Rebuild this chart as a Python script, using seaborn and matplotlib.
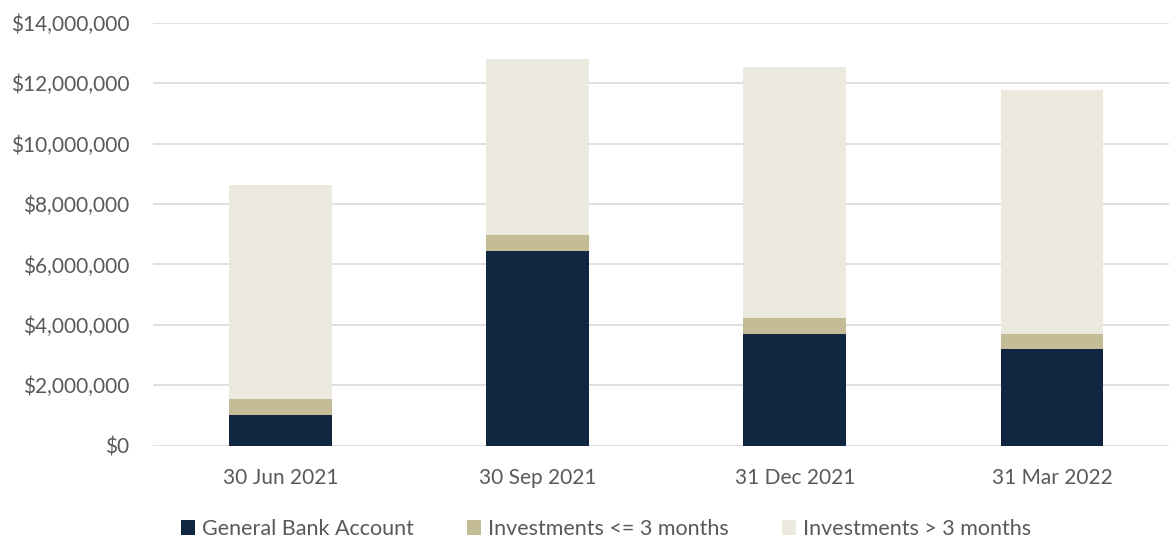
import numpy as np
import pandas as pd
import matplotlib
matplotlib.use("Agg")
import matplotlib.pyplot as plt
import seaborn as sns
from matplotlib.ticker import FuncFormatter
from matplotlib.patches import Patch

# values
quarters = ['30 Jun 2021', '30 Sep 2021', '31 Dec 2021', '31 Mar 2022']
general_bank = [1030000, 6450000, 3700000, 3200000]
inv_short = [520000, 520000, 530000, 500000]
inv_long = [7080000, 5820000, 8320000, 8070000]

series_names = ['General Bank Account', 'Investments <= 3 months', 'Investments > 3 months']
colors = ['#112640', '#C4BC96', '#ECEADF']

df = pd.DataFrame({'quarter': quarters,
                   'gba': general_bank,
                   'short': inv_short,
                   'long': inv_long})
# cumulative heights so the layers stack
df['top_short'] = df['gba'] + df['short']
df['top_long'] = df['top_short'] + df['long']

sns.set_style('white')
plt.rcParams['font.family'] = ['Lato', 'DejaVu Sans']
txt = '#595959'

fig = plt.figure(figsize=(11.69, 5.38), dpi=100)
ax = fig.add_axes([153 / 1169, (538 - 445.7) / 538, 1 - 153 / 1169, (445.7 - 22.7) / 538])

for col, c in zip(['top_long', 'top_short', 'gba'], colors[::-1]):
    sns.barplot(data=df, x='quarter', y=col, color=c, width=0.4, ax=ax,
                saturation=1, linewidth=0, edgecolor='none')

ax.set_ylim(0, 14000000)
ax.set_yticks(np.arange(0, 14000001, 2000000))
ax.yaxis.set_major_formatter(FuncFormatter(lambda v, p: '${:,.0f}'.format(v)))
ax.set_xlim(-0.496, 3.455)
ax.grid(axis='y', color='#D9D9D9', linewidth=1.2)
ax.set_axisbelow(True)
for s in ax.spines.values():
    s.set_visible(False)
ax.set_xlabel('')
ax.set_ylabel('')
ax.tick_params(axis='both', length=0, labelsize=15, colors=txt)
ax.tick_params(axis='y', pad=17)
ax.tick_params(axis='x', pad=16)

handles = [Patch(facecolor=c, edgecolor='none') for c in colors]
fig.legend(handles, series_names, loc='center', bbox_to_anchor=(606 / 1169, 1 - 529 / 538),
           ncol=3, frameon=False, fontsize=15.5, labelcolor=txt, handlelength=0.65, handleheight=0.65,
           handletextpad=0.3, columnspacing=2.5)

fig.savefig('out.png', dpi=100)
